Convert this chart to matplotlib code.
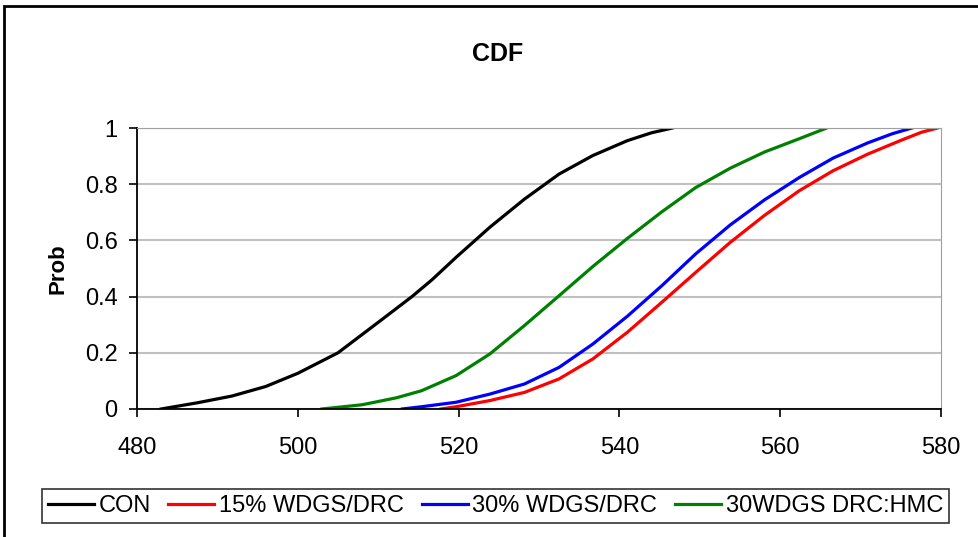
import matplotlib.pyplot as plt
from matplotlib.patches import Rectangle

plt.rcParams['font.family'] = ['Liberation Sans', 'DejaVu Sans']

# values (x, cumulative probability)
con_x = [483.0, 487.5, 491.8, 496.0, 500.0, 505.0, 510.4, 514.2, 516.7, 519.7, 523.9,
         528.2, 532.5, 536.7, 541.0, 544.0, 546.6]
con_y = [0.0, 0.022, 0.046, 0.080, 0.127, 0.200, 0.317, 0.40, 0.46, 0.540, 0.647,
         0.747, 0.836, 0.902, 0.955, 0.983, 1.0]

wdgs15_x = [517.8, 519.7, 523.9, 528.2, 532.5, 536.7, 541.0, 545.3, 549.5, 553.8, 558.1,
            562.4, 566.6, 570.9, 575.2, 577.6, 579.6]
wdgs15_y = [0.0, 0.008, 0.030, 0.059, 0.107, 0.178, 0.273, 0.380, 0.486, 0.593, 0.690,
            0.777, 0.848, 0.907, 0.958, 0.985, 1.0]

wdgs30_x = [513.0, 515.4, 519.7, 523.9, 528.2, 532.5, 536.7, 541.0, 545.3, 549.5, 553.8,
            558.1, 562.4, 566.6, 570.9, 574.0, 576.4]
wdgs30_y = [0.0, 0.008, 0.024, 0.053, 0.089, 0.148, 0.231, 0.330, 0.439, 0.552, 0.655,
            0.745, 0.824, 0.893, 0.947, 0.980, 1.0]

hmc_x = [503.0, 508.0, 512.3, 515.4, 519.7, 523.9, 528.2, 532.5, 536.7, 541.0, 545.3,
         549.5, 553.8, 558.1, 562.4, 565.8]
hmc_y = [0.0, 0.015, 0.040, 0.065, 0.119, 0.196, 0.297, 0.403, 0.507, 0.607, 0.702,
         0.788, 0.857, 0.915, 0.962, 1.0]

series = [
    ("CON", con_x, con_y, "black"),
    ("15% WDGS/DRC", wdgs15_x, wdgs15_y, "red"),
    ("30% WDGS/DRC", wdgs30_x, wdgs30_y, "blue"),
    ("30WDGS DRC:HMC", hmc_x, hmc_y, "green"),
]

fig = plt.figure(figsize=(9.79, 5.37), dpi=100)
ax = fig.add_axes([0.140, 0.2384, 0.821, 0.5232])

for nombre, xs, ys, color in series:
    ax.plot(xs, ys, color=color, lw=2.3, label=nombre)

ax.set_xlim(480, 580)
ax.set_ylim(0, 1)
ax.set_xticks(range(480, 581, 20))
ax.set_yticks([0, 0.2, 0.4, 0.6, 0.8, 1])
ax.set_yticklabels(["0", "0.2", "0.4", "0.6", "0.8", "1"])
ax.tick_params(labelsize=17, direction="out", length=6, width=1.2)
ax.tick_params(axis="y", pad=8)
ax.tick_params(axis="x", pad=14)
ax.yaxis.grid(True, color="#c0c0c0", lw=1.5)
ax.set_axisbelow(True)
ax.spines["top"].set_color("#a0a0a0")
ax.spines["right"].set_color("#a0a0a0")
ax.spines["left"].set_linewidth(1.3)
ax.spines["bottom"].set_linewidth(1.3)
ax.set_ylabel("Prob", fontsize=16, fontweight="bold", labelpad=12)

fig.text(0.508, 0.900, "CDF", ha="center", va="center", fontsize=18, fontweight="bold")

leg = fig.legend(loc="center", bbox_to_anchor=(0.506, 0.057), ncol=4, fontsize=17,
                 frameon=True, fancybox=False, edgecolor="black", handlelength=1.95,
                 handletextpad=0.2, columnspacing=0.75, borderpad=0.25, borderaxespad=0)
leg.get_frame().set_linewidth(1.2)

# borde exterior del grafico
fig.patches.append(Rectangle((4 / 979, -0.1), 1.2, 1 - 6 / 537 + 0.1,
                             transform=fig.transFigure, fill=False,
                             edgecolor="black", lw=2))

fig.savefig("out.png", dpi=100)
